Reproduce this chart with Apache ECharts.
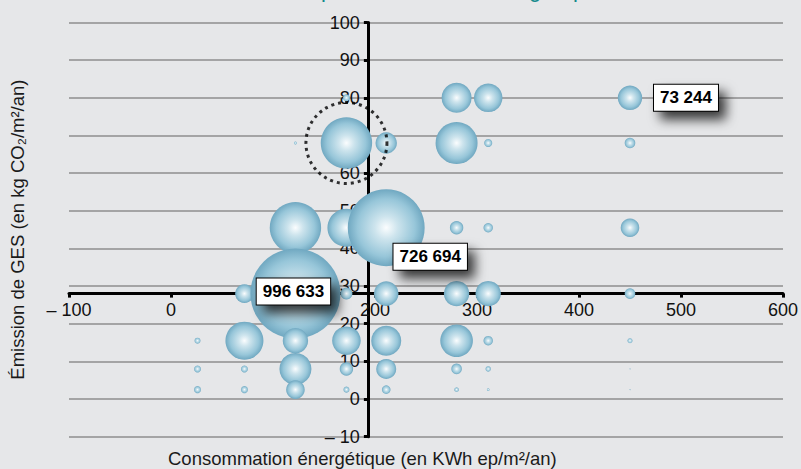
<!DOCTYPE html>
<html>
<head>
<meta charset="utf-8">
<script src="https://cdn.jsdelivr.net/npm/echarts@6/dist/echarts.min.js"></script>
<style>
html,body{margin:0;padding:0;background:#e6e7e9;}
#chart{width:801px;height:469px;}
</style>
</head>
<body>
<div id="chart"></div>
<script>
// Data
var consumption = [172,280,311,450, 122,172,211,280,311,450, 122,172,211,280,311,450, 72,122,172,211,280,311,450, 26,72,122,172,211,280,311,450, 26,72,122,172,211,280,311,450, 26,72,122,172,211,280,311,450];
var emission    = [80,80,80,80, 68,68,68,68,68,68, 45.5,45.5,45.5,45.5,45.5,45.5, 28,28,28,28,28,28,28, 15.5,15.5,15.5,15.5,15.5,15.5,15.5,15.5, 8,8,8,8,8,8,8,8, 2.5,2.5,2.5,2.5,2.5,2.5,2.5,2.5];
var surface     = [6000,110600,100500,73244, 1100,324700,56300,216800,7900,13800, 324700,177500,726694,22100,10900,42500, 42500,996633,17700,74400,79300,79300,13800, 4400,177500,79300,100500,110600,130600,10900,3100, 6000,6000,125800,22100,49200,13800,3600,120, 6000,6000,42500,4400,9100,2600,830,120];
var calloutValues = [996633, 726694, 73244];
var highlightPoint = [172, 68];
var xAxisMin = -100, xAxisMax = 600, xAxisStep = 100;
var yAxisMin = -10, yAxisMax = 100, yAxisStep = 10;
var xCross = 191.5, yCross = 28;
var titleText = 'Répartition des sites du groupe';
var xName = 'Consommation énergétique (en KWh ep/m²/an)';
var yName = 'Émission de GES (en kg CO₂/m²/an)';

var chart = echarts.init(document.getElementById('chart'), null, {renderer:'svg'});

var gridL = 68.3, gridR = 15, gridT = 22.5, gridB = 32.3;
var plotW = 801 - gridL - gridR, plotH = 469 - gridT - gridB;
var xOffset = -((yCross - yAxisMin) / (yAxisMax - yAxisMin) * plotH);
var yOffset = -((xCross - xAxisMin) / (xAxisMax - xAxisMin) * plotW);

function fmtNum(v){ return String(v).replace(/\B(?=(\d{3})+(?!\d))/g, ' '); }
function fmtAxis(v){ return v < 0 ? '– ' + Math.abs(v) : String(v); }

var calloutOffsets = {996633:[-2,-2], 726694:[44,29], 73244:[56,0]};

var bubbleData = consumption.map(function(x, i){
  var v = surface[i];
  var item = {value:[x, emission[i], v]};
  if (calloutValues.indexOf(v) >= 0) {
    item.label = {
      show:true, position:'inside', offset: calloutOffsets[v],
      formatter: function(p){ return fmtNum(p.value[2]); },
      color:'#000', fontSize:17, fontWeight:'bold', fontFamily:'Liberation Sans, Arial, sans-serif',
      backgroundColor:'#fff', borderColor:'#000', borderWidth:1, padding:[5,6,4,6],
      shadowColor:'rgba(0,0,0,0.75)', shadowBlur:12, shadowOffsetX:7, shadowOffsetY:8
    };
  }
  return item;
});

var bubbleColor = {type:'radial', x:0.5, y:0.5, r:0.5, colorStops:[
  {offset:0, color:'#fbfdfe'},
  {offset:0.3, color:'#cde4ed'},
  {offset:0.75, color:'#97c6d9'},
  {offset:1, color:'#70a8c1'}
]};

var option = {
  backgroundColor:'#e6e7e9',
  animation:false,
  textStyle:{fontFamily:'Liberation Sans, Arial, sans-serif'},
  title:[
    {text:titleText, left:288, top:-27, textStyle:{color:'#138a8c', fontSize:22, fontWeight:'normal', fontFamily:'Liberation Sans, Arial, sans-serif'}},
    {text:xName, left:163, top:444, textStyle:{color:'#1a1a1a', fontSize:18.5, fontWeight:'normal', fontFamily:'Liberation Sans, Arial, sans-serif'}}
  ],
  grid:{left:gridL, right:gridR, top:gridT, bottom:gridB},
  xAxis:{
    type:'value', min:xAxisMin, max:xAxisMax, interval:xAxisStep, position:'bottom', offset:xOffset,
    axisLine:{show:true, onZero:false, lineStyle:{color:'#000', width:3}},
    axisTick:{show:true, length:4, lineStyle:{color:'#000', width:3}},
    axisLabel:{margin:7, color:'#111', fontSize:18, formatter:fmtAxis},
    splitLine:{show:false}
  },
  yAxis:{
    type:'value', min:yAxisMin, max:yAxisMax, interval:yAxisStep, position:'left', offset:yOffset,
    name:yName, nameLocation:'middle', nameGap:-yOffset + 42, nameRotate:90,
    nameTextStyle:{color:'#1a1a1a', fontSize:18.5},
    axisLine:{show:true, onZero:false, lineStyle:{color:'#000', width:3}},
    axisTick:{show:true, length:4, lineStyle:{color:'#000', width:3}},
    axisLabel:{margin:8, color:'#111', fontSize:18, formatter:fmtAxis},
    splitLine:{show:true, lineStyle:{color:'#8e8e8e', width:1.5}}
  },
  series:[
    {
      type:'scatter', z:3,
      data:bubbleData,
      symbol:'circle',
      symbolSize:function(val){ return 0.0902 * Math.sqrt(val[2]); },
      itemStyle:{color:bubbleColor, opacity:1},
      emphasis:{disabled:true}
    },
    {
      type:'scatter', z:5, silent:true,
      data:[highlightPoint],
      symbol:'circle', symbolSize:81,
      itemStyle:{color:'rgba(0,0,0,0)', borderColor:'#000', borderWidth:3, borderType:[3,4]}
    }
  ]
};
chart.setOption(option);
</script>
</body>
</html>
